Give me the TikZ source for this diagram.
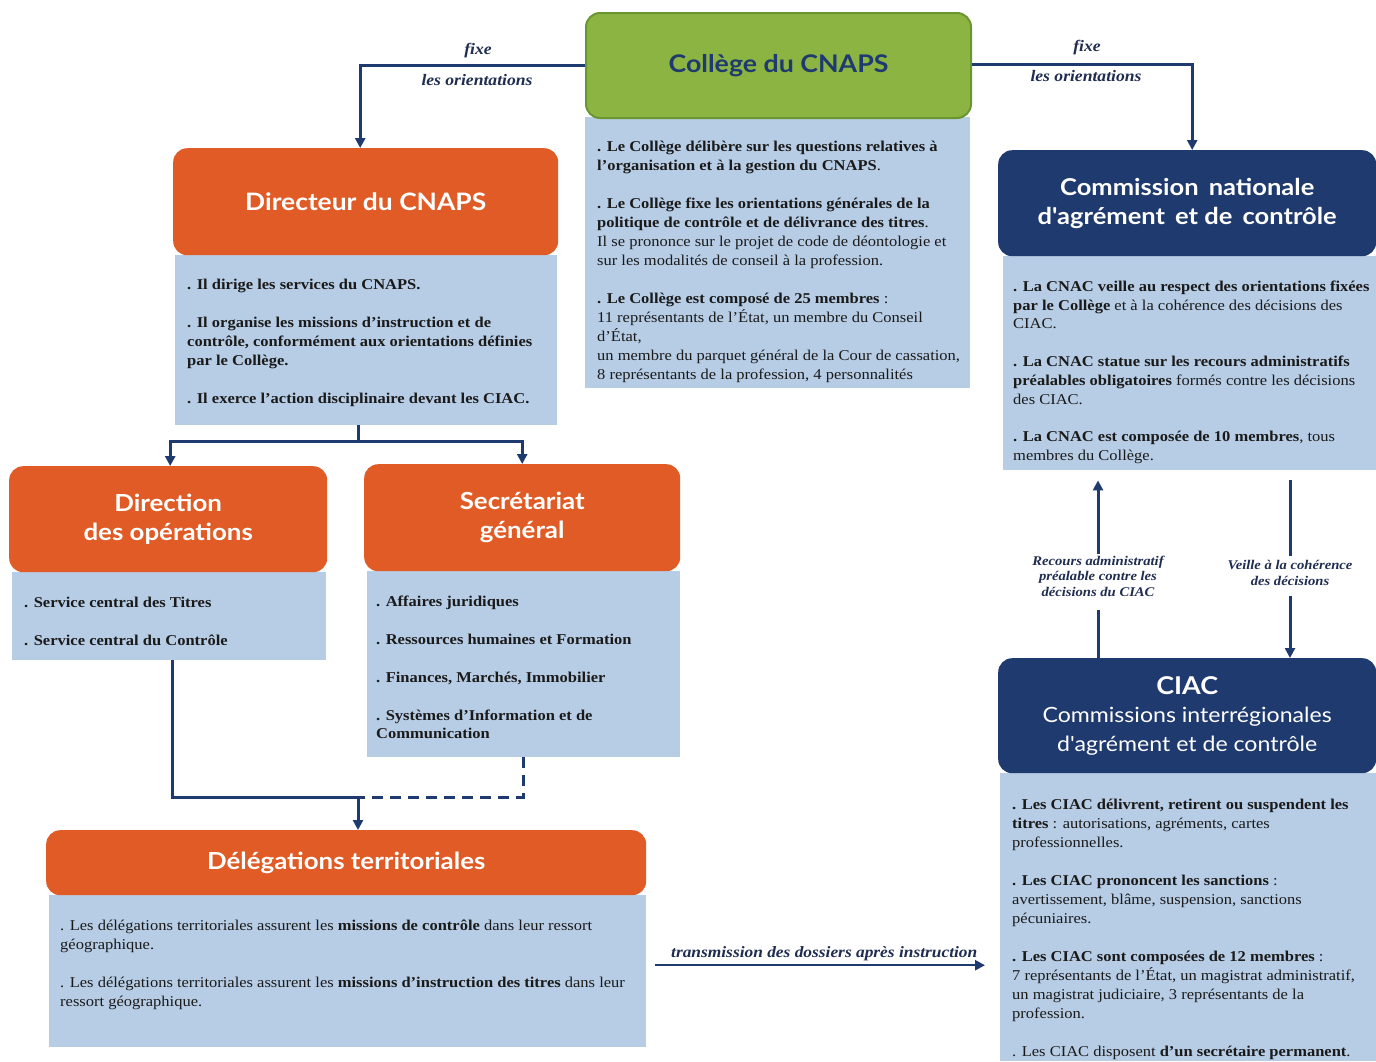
\documentclass[tikz,border=0pt]{standalone}
\usepackage{fontspec}
\setmainfont[FakeStretch=1.1]{Liberation Serif}
\newfontfamily\hdr[FakeStretch=1.1]{Lato}
\usetikzlibrary{arrows.meta,calc}
\definecolor{orng}{HTML}{E05B26}
\definecolor{bodyblue}{HTML}{B7CDE5}
\definecolor{navy}{HTML}{1F3A6E}
\definecolor{grn}{HTML}{8CB443}
\definecolor{grnb}{HTML}{6A9632}
\definecolor{txt}{HTML}{1A1A1A}
\definecolor{lbltxt}{HTML}{1F2D50}
\begin{document}
\begin{tikzpicture}[x=1pt,y=-1pt,
  hbox/.style={rounded corners=14pt, inner sep=0pt, align=center, anchor=north west,
    font=\hdr\bfseries\fontsize{23.5}{29}\selectfont, text=white},
  orangebox/.style={hbox, fill=orng},
  navybox/.style={hbox, fill=navy},
  greenbox/.style={hbox, fill=grn, draw=grnb, line width=2pt, text=navy},
  bodybox/.style={fill=bodyblue, inner sep=0pt, anchor=north west},
  bodytext/.style={anchor=north west, align=left, inner sep=0pt,
    font=\fontsize{15}{19}\selectfont, text=txt},
  link/.style={draw=navy, line width=3pt},
  dashlink/.style={link, dash pattern=on 11pt off 7pt},
  arr/.style={link, -{Triangle[length=10pt,width=10pt]}},
  lbl/.style={font=\bfseries\itshape\fontsize{16}{18}\selectfont, text=lbltxt, inner sep=1pt},
  smalllbl/.style={font=\bfseries\itshape\fontsize{13.3}{15.5}\selectfont, text=lbltxt, align=center, inner sep=2pt}
]
\useasboundingbox (0,0) rectangle (1376,1061);
\fill[white] (0,0) rectangle (1376,1061);

% ---------- bodies ----------
\node[bodybox, minimum width=385pt, minimum height=271pt] (colbody) at (585,117) {};
\node[bodybox, minimum width=382pt, minimum height=170pt] (dirbody) at (175,255) {};
\node[bodybox, minimum width=373pt, minimum height=214pt] (cnacbody) at (1003,256) {};
\node[bodybox, minimum width=376pt, minimum height=288pt] (ciacbody) at (1000,773) {};
\node[bodybox, minimum width=314pt, minimum height=88pt] (opsbody) at (12,572) {};
\node[bodybox, minimum width=313pt, minimum height=186pt] (secbody) at (367,571) {};
\node[bodybox, minimum width=597pt, minimum height=152pt] (delbody) at (49,895) {};

% ---------- headers ----------
\node[greenbox, minimum width=385pt, minimum height=105pt,
  font=\hdr\bfseries\fontsize{24.3}{29}\selectfont] (college) at (585,12) {Collège du CNAPS};
\node[orangebox, minimum width=385pt, minimum height=107pt,
  font=\hdr\bfseries\fontsize{24}{29}\selectfont] (dir) at (173,148) {Directeur du CNAPS};
\node[navybox, minimum width=378pt, minimum height=106pt,
  font=\hdr\bfseries\fontsize{23.2}{29}\selectfont] (cnac) at (998,150) {Commission\, nationale\\d'agrément\, et de\, contrôle};
\node[navybox, minimum width=378pt, minimum height=115pt,
  font=\hdr\fontsize{21}{28.5}\selectfont] (ciac) at (998,658) {{\bfseries\fontsize{24.5}{28.5}\selectfont CIAC}\\Commissions interrégionales\\d'agrément et de contrôle};
\node[orangebox, minimum width=318pt, minimum height=106pt] (ops) at (9,466) {Direction\\des opérations};
\node[orangebox, minimum width=316pt, minimum height=107pt] (sec) at (364,464) {Secrétariat\\général};
\node[orangebox, minimum width=600pt, minimum height=65pt] (del) at (46,830) {Délégations territoriales};

% ---------- body texts ----------
\node[bodytext] (coltext) at (597,140.5) {%
\textbf{. Le Collège délibère sur les questions relatives à}\\
\textbf{l'organisation et à la gestion du CNAPS}.\\[19pt]
\textbf{. Le Collège fixe les orientations générales de la}\\
\textbf{politique de contrôle et de délivrance des titres}.\\
Il se prononce sur le projet de code de déontologie et\\
sur les modalités de conseil à la profession.\\[19pt]
\textbf{. Le Collège est composé de 25 membres} :\\
11 représentants de l'État, un membre du Conseil\\
d'État,\\
un membre du parquet général de la Cour de cassation,\\
8 représentants de la profession, 4 personnalités};

\node[bodytext, font=\bfseries\fontsize{15}{19}\selectfont] (dirtext) at (187,278.5) {%
. Il dirige les services du CNAPS.\\[19pt]
. Il organise les missions d'instruction et de\\
contrôle, conformément aux orientations définies\\
par le Collège.\\[19pt]
. Il exerce l'action disciplinaire devant les CIAC.};

\node[bodytext, font=\fontsize{15}{18.8}\selectfont] (cnactext) at (1013,280.5) {%
\textbf{. La CNAC veille au respect des orientations fixées}\\
\textbf{par le Collège} et à la cohérence des décisions des\\
CIAC.\\[18.8pt]
\textbf{. La CNAC statue sur les recours administratifs}\\
\textbf{préalables obligatoires} formés contre les décisions\\
des CIAC.\\[18.8pt]
\textbf{. La CNAC est composée de 10 membres}, tous\\
membres du Collège.};

\node[bodytext] (ciactext) at (1012,798.5) {%
\textbf{. Les CIAC délivrent, retirent ou suspendent les}\\
\textbf{titres} : autorisations, agréments, cartes\\
professionnelles.\\[19pt]
\textbf{. Les CIAC prononcent les sanctions} :\\
avertissement, blâme, suspension, sanctions\\
pécuniaires.\\[19pt]
\textbf{. Les CIAC sont composées de 12 membres} :\\
7 représentants de l'État, un magistrat administratif,\\
un magistrat judiciaire, 3 représentants de la\\
profession.\\[19pt]
. Les CIAC disposent \textbf{d'un secrétaire permanent}.};

\node[bodytext, font=\bfseries\fontsize{15}{19}\selectfont] (opstext) at (24,596.5) {%
. Service central des Titres\\[19pt]
. Service central du Contrôle};

\node[bodytext, font=\bfseries\fontsize{15}{18.5}\selectfont] (sectext) at (376,595.5) {%
. Affaires juridiques\\[19.5pt]
. Ressources humaines et Formation\\[19.5pt]
. Finances, Marchés, Immobilier\\[19.5pt]
. Systèmes d'Information et de\\
Communication};

\node[bodytext] (deltext) at (60,919.5) {%
. Les délégations territoriales assurent les \textbf{missions de contrôle} dans leur ressort\\
géographique.\\[19pt]
. Les délégations territoriales assurent les \textbf{missions d'instruction des titres} dans leur\\
ressort géographique.};

% ---------- connectors ----------
\draw[arr] (college.west) -| ([xshift=-5.5pt]dir.north);
\node[lbl] (fixeL) at (478,51) {fixe};
\node[lbl] (orientL) at (477,80) {les orientations};

\draw[arr] ([yshift=1.5pt]college.east) -| ([xshift=5pt]cnac.north);
\node[lbl] (fixeR) at (1087,48) {fixe};
\node[lbl] (orientR) at (1086,76) {les orientations};

\coordinate (split) at (358,441);
\draw[link] (dirbody.south -| split) -- (split);
\draw[arr] (split) -| ([xshift=2pt]ops.north);
\draw[arr] (split) -| (sec.north);

\coordinate (merge) at (358,797);
\draw[link] ([xshift=3pt]opsbody.south) |- (merge);
\draw[dashlink] (secbody.south) |- (merge);
\draw[arr] (merge) -- (del.north -| merge);

\node[smalllbl] (recours) at (1098,576) {Recours administratif\\préalable contre les\\décisions du CIAC};
\draw[link, shorten >=12pt] (ciac.north -| recours) -- (recours.south);
\draw[arr, shorten >=10pt] (recours.north) -- (cnacbody.south -| recours);

\node[smalllbl] (veille) at (1290,573) {Veille à la cohérence\\des décisions};
\draw[link, shorten <=10pt, shorten >=2pt] (cnacbody.south -| veille) -- (veille.north);
\draw[arr, shorten <=8pt] (veille.south) -- (ciac.north -| veille);

\coordinate (tstart) at ($(delbody.east)+(9,-6)$);
\coordinate (tend) at (tstart -| ciacbody.west);
\draw[arr, line width=2.5pt, shorten >=15pt] (tstart) -- node[lbl, above=2pt, pos=0.49, font=\bfseries\itshape\fontsize{15.8}{18}\selectfont] (translbl) {transmission des dossiers après instruction} (tend);
\end{tikzpicture}
\end{document}
